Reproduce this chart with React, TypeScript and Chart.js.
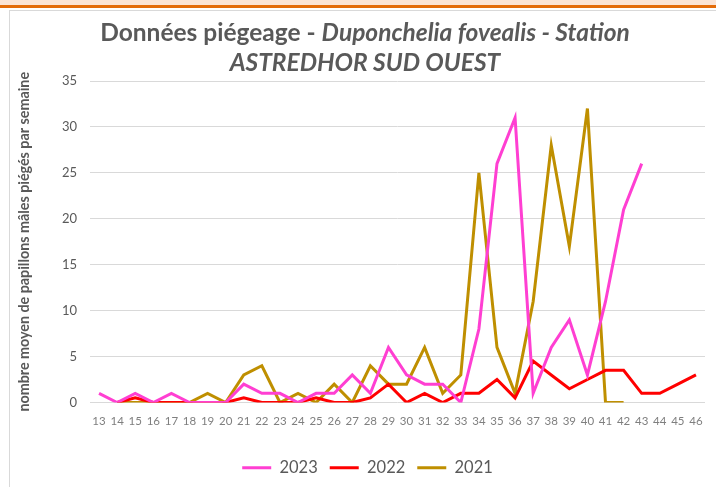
import React, { useEffect, useRef } from "react";
import { Chart, registerables } from "chart.js";

Chart.register(...registerables);

const weeks = ["13","14","15","16","17","18","19","20","21","22","23","24","25","26","27","28","29","30","31","32","33","34","35","36","37","38","39","40","41","42","43","44","45","46"];

// week 13 .. 46
const values2023 = [1,0,1,0,1,0,0,0,2,1,1,0,1,1,3,1,6,3,2,2,0,8,26,31,1,6,9,3,11,21,26,null,null,null];
const values2022 = [null,0,0.5,0,0,0,0,0,0.5,0,0,0,0.5,0,0,0.5,2,0,1,0,1,1,2.5,0.5,4.5,3,1.5,2.5,3.5,3.5,1,1,2,3];
const values2021 = [null,0,0,0,0,0,1,0,3,4,0,1,0,2,0,4,2,2,6,1,3,25,6,1,11,28,17,32,0,0,null,null,null,null];

const seriesNames = ["2023", "2022", "2021"];
const seriesColors = ["#FF3FD2", "#FF0000", "#BF8F00"];
const yTicks = [0, 5, 10, 15, 20, 25, 30, 35];

const FONT = "Lato, 'Open Sans', sans-serif";

const legendShift = {
  id: "legendShift",
  afterLayout(chart: any) {
    if (chart.legend) {
      chart.legend.left += 9;
      chart.legend.right += 9;
    }
  },
};

export default function App() {
  const ref = useRef<HTMLCanvasElement | null>(null);

  useEffect(() => {
    if (!ref.current) return;
    const data = [values2023, values2022, values2021];
    const chart = new Chart(ref.current, {
      type: "line",
      data: {
        labels: weeks,
        datasets: seriesNames.map((n, i) => ({
          label: n,
          data: data[i],
          borderColor: seriesColors[i],
          backgroundColor: seriesColors[i],
          borderWidth: 3,
          pointRadius: 0,
          tension: 0,
          spanGaps: false,
        })),
      },
      plugins: [legendShift],
      options: {
        animation: false,
        responsive: true,
        maintainAspectRatio: false,
        layout: { padding: { left: 12, right: 11, top: 81, bottom: 1 } },
        plugins: {
          title: { display: false },
          tooltip: { enabled: false },
          legend: {
            position: "bottom",
            labels: {
              usePointStyle: true,
              pointStyle: "line",
              pointStyleWidth: 29,
              boxHeight: 3,
              color: "#595959",
              font: { family: FONT, size: 16.5 },
              padding: 12,
            },
          },
        },
        scales: {
          x: {
            offset: true,
            grid: { display: false, drawTicks: false },
            border: { display: false },
            ticks: {
              color: "#7F7F7F",
              font: { family: FONT, size: 11.5 },
              padding: 12,
              maxRotation: 0,
              autoSkip: false,
            },
            afterFit: (s: any) => { s.height = 45; },
          },
          y: {
            min: 0,
            max: 35,
            afterBuildTicks: (s: any) => { s.ticks = yTicks.map((v) => ({ value: v })); },
            grid: { color: "#D9D9D9", lineWidth: 1, drawTicks: false },
            border: { display: false },
            ticks: {
              color: "#595959",
              font: { family: FONT, size: 13 },
              padding: 13,
            },
            title: {
              display: true,
              text: "nombre moyen de papillons mâles piégés par semaine",
              color: "#595959",
              font: { family: FONT, size: 14.3, weight: "bold" },
              padding: { top: 4, bottom: 4 },
            },
            afterFit: (s: any) => { s.width = 78; },
          },
        },
      },
    });
    return () => chart.destroy();
  }, []);

  return (
    <div style={{ position: "fixed", left: 0, top: 0, width: 716, height: 487, background: "#fff", overflow: "hidden" }}>
      <div style={{ position: "absolute", left: 0, top: 0, width: 716, height: 5, background: "#FBE4D5" }} />
      <div style={{ position: "absolute", left: 0, top: 5, width: 716, height: 3, background: "#E36C0A" }} />
      <div style={{ position: "absolute", left: 9, top: 10, width: 720, height: 490, borderLeft: "1px solid #D9D9D9", borderTop: "1px solid #D9D9D9", boxSizing: "border-box" }} />
      <div style={{ position: "absolute", left: 0, top: 0, width: 716, height: 487 }}>
        <canvas ref={ref} />
      </div>
      <div
        style={{
          position: "absolute",
          left: 15,
          width: 700,
          top: 17,
          textAlign: "center",
          fontFamily: FONT,
          fontWeight: "bold",
          fontSize: 24.5,
          lineHeight: "30px",
          color: "#595959",
          whiteSpace: "nowrap",
        }}
      >
        <div>Données piégeage - <i>Duponchelia fovealis - Station</i></div>
        <div><i>ASTREDHOR SUD OUEST</i></div>
      </div>
    </div>
  );
}
